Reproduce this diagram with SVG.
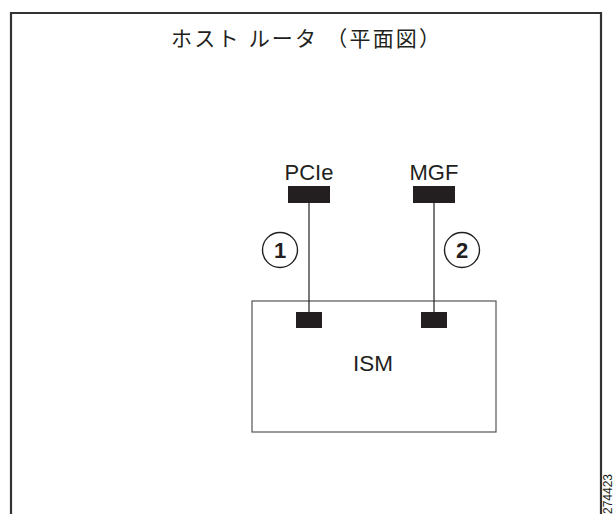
<svg xmlns="http://www.w3.org/2000/svg" width="616" height="514" viewBox="0 0 616 514">
<style>
.t{font-family:"Liberation Sans","Noto Sans CJK JP",sans-serif;fill:#231f20}
.port{fill:#231f20}
.wire{stroke:#231f20;stroke-width:1.2;fill:none}
.num{fill:#fff;stroke:#231f20;stroke-width:1.4}
</style>
<rect width="616" height="514" fill="#fff"/>
<path d="M11,514 V13 H601 V514" fill="none" stroke="#333" stroke-width="2.2"/>
<text class="t" x="171" y="46" font-size="21" letter-spacing="2.2">ホスト ルータ （平面図）</text>
<g id="ism">
<rect x="252" y="301" width="244" height="131" fill="#fff" stroke="#555" stroke-width="1.2"/>
<text class="t" x="373" y="371" font-size="22.5" text-anchor="middle">ISM</text>
<rect class="port" x="296" y="312" width="26" height="16"/>
<rect class="port" x="421" y="312" width="26" height="16"/>
</g>
<g id="pcie">
<text class="t" x="309" y="180" font-size="22" text-anchor="middle">PCIe</text>
<rect class="port" x="288" y="186" width="42" height="17"/>
</g>
<g id="mgf">
<text class="t" x="434" y="180" font-size="22" text-anchor="middle">MGF</text>
<rect class="port" x="413" y="186" width="42" height="17"/>
</g>
<g id="connectors">
<line class="wire" x1="309" y1="203" x2="309" y2="312"/>
<line class="wire" x1="434" y1="203" x2="434" y2="312"/>
</g>
<g id="label1">
<circle class="num" cx="280" cy="250" r="17.5"/>
<text class="t" x="280" y="258" font-size="22" font-weight="bold" text-anchor="middle">1</text>
</g>
<g id="label2">
<circle class="num" cx="462" cy="250" r="17.5"/>
<text class="t" x="462" y="258" font-size="22" font-weight="bold" text-anchor="middle">2</text>
</g>
<text class="t" transform="translate(612,514) rotate(-90)" font-size="12">274423</text>
</svg>
